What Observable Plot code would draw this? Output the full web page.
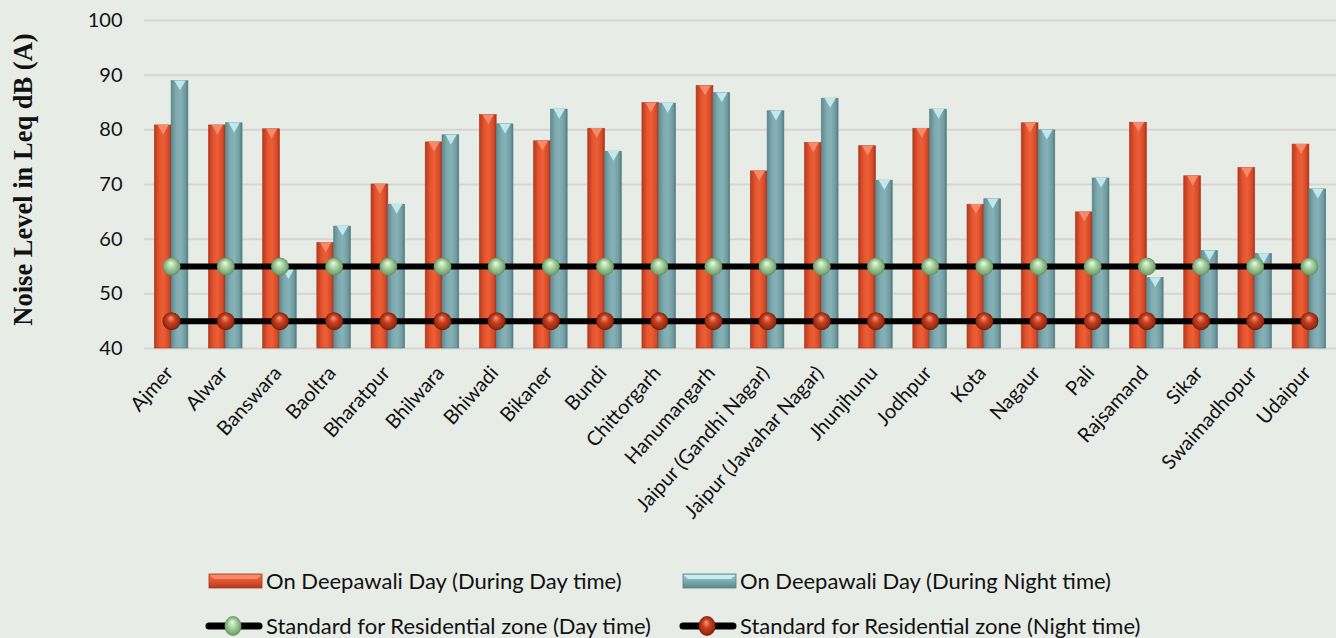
<!DOCTYPE html>
<html>
<head>
<meta charset="utf-8">
<script src="https://cdn.jsdelivr.net/npm/d3@7"></script>
<script src="https://cdn.jsdelivr.net/npm/@observablehq/plot@0.6"></script>
<style>
  html, body { margin: 0; padding: 0; background: #e8ece7; }
  #wrap { position: relative; width: 1336px; height: 638px; background: #e8ece7; overflow: hidden; }
  #chart { position: absolute; left: 0; top: 0; }
  .legend { position: absolute; height: 20px; font-family: Lato, "Open Sans", sans-serif; font-size: 22px; line-height: 20px; color: #111; display: flex; align-items: center; white-space: nowrap; }
  .legend svg { display: block; margin-right: 3px; }
</style>
</head>
<body>
<div id="wrap">
  <div id="chart"></div>
</div>
<script>
const cities = ["Ajmer","Alwar","Banswara","Baoltra","Bharatpur","Bhilwara","Bhiwadi","Bikaner","Bundi","Chittorgarh","Hanumangarh","Jaipur (Gandhi Nagar)","Jaipur (Jawahar Nagar)","Jhunjhunu","Jodhpur","Kota","Nagaur","Pali","Rajsamand","Sikar","Swaimadhopur","Udaipur"];
const dayValues   = [80.8,80.8,80.1,59.3,70.0,77.7,82.7,77.9,80.2,84.9,88.0,72.4,77.6,77.0,80.2,66.3,81.2,64.9,81.3,71.5,73.0,77.3];
const nightValues = [88.9,81.2,54.4,62.3,66.3,79.0,81.0,83.7,76.0,84.8,86.7,83.4,85.7,70.7,83.7,67.3,79.9,71.1,52.9,57.8,57.3,69.1];
const dayStandard = 55;
const nightStandard = 45;
const yTicks = [40,50,60,70,80,90,100];
const seriesNames = ["On Deepawali Day (During Day time)","On Deepawali Day (During Night time)","Standard for Residential zone (Day time)","Standard for Residential zone (Night time)"];
const yLabel = "Noise Level in Leq dB (A)";

const dayData = cities.map((c, i) => ({city: c, value: dayValues[i]}));
const nightData = cities.map((c, i) => ({city: c, value: nightValues[i]}));
const dayStd = cities.map(c => ({city: c, value: dayStandard}));
const nightStd = cities.map(c => ({city: c, value: nightStandard}));

const half = 16.8;

const plot = Plot.plot({
  width: 1336,
  height: 545,
  marginLeft: 144,
  marginRight: 0,
  marginTop: 20,
  marginBottom: 197,
  style: {background: "transparent", fontFamily: "Lato, 'Open Sans', sans-serif"},
  x: {domain: cities, type: "band", paddingInner: 0.38, paddingOuter: 0.19, round: false, label: null},
  y: {domain: [40, 100], ticks: yTicks, label: null},
  marks: [
    Plot.gridY(yTicks, {stroke: "#d8d4d4", strokeOpacity: 1, strokeWidth: 2}),
    Plot.axisY({ticks: yTicks, tickSize: 0, tickPadding: 22, fontSize: 20, fill: "#111", label: null}),
    Plot.axisX({tickSize: 0, tickPadding: 21, dx: -2, tickRotate: -48, fontSize: 20, fill: "#111", label: null}),
    Plot.barY(dayData, {x: "city", y1: 40, y2: "value", fill: "url(#gRed)", stroke: "#a8351c", strokeWidth: 0.6, insetRight: half}),
    Plot.barY(nightData, {x: "city", y1: 40, y2: "value", fill: "url(#gBlue)", stroke: "#557f84", strokeWidth: 0.6, insetLeft: half}),
    Plot.dot(dayData, {x: "city", y: "value", symbol: "triangle", rotate: 180, r: 4.2, dx: -half/2, dy: 2.6, fill: "#f58a6a", stroke: "none"}),
    Plot.dot(nightData, {x: "city", y: "value", symbol: "triangle", rotate: 180, r: 4.2, dx: half/2, dy: 2.6, fill: "#bfe9ee", stroke: "none"}),
    Plot.lineY(dayStd, {x: "city", y: "value", stroke: "#000", strokeWidth: 6}),
    Plot.lineY(nightStd, {x: "city", y: "value", stroke: "#000", strokeWidth: 6}),
    Plot.dot(dayStd, {x: "city", y: "value", r: 9, fill: "url(#gGreenBall)", stroke: "none"}),
    Plot.dot(nightStd, {x: "city", y: "value", r: 9, fill: "url(#gRedBall)", stroke: "none"}),
    Plot.text([yLabel], {frameAnchor: "left", dx: -121, dy: -5, rotate: -90, textAnchor: "middle", lineAnchor: "middle", fontFamily: "'Liberation Serif', 'Times New Roman', serif", fontWeight: "bold", fontSize: 26.5, fill: "#111"})
  ]
});

const defsHTML = `
<linearGradient id="gRed" x1="0" x2="1" y1="0" y2="0">
  <stop offset="0" stop-color="#b8391d"/>
  <stop offset="0.3" stop-color="#e4552f"/>
  <stop offset="0.55" stop-color="#ec5f36"/>
  <stop offset="0.85" stop-color="#d44a28"/>
  <stop offset="1" stop-color="#a3321a"/>
</linearGradient>
<linearGradient id="gBlue" x1="0" x2="1" y1="0" y2="0">
  <stop offset="0" stop-color="#5d8a90"/>
  <stop offset="0.3" stop-color="#7eaab0"/>
  <stop offset="0.55" stop-color="#86b2b7"/>
  <stop offset="0.85" stop-color="#6f9ba1"/>
  <stop offset="1" stop-color="#4f7a80"/>
</linearGradient>
<linearGradient id="gRedV" x1="0" x2="0" y1="0" y2="1">
  <stop offset="0" stop-color="#f07a55"/>
  <stop offset="0.5" stop-color="#e2522c"/>
  <stop offset="1" stop-color="#b23a1e"/>
</linearGradient>
<linearGradient id="gBlueV" x1="0" x2="0" y1="0" y2="1">
  <stop offset="0" stop-color="#a8d4d8"/>
  <stop offset="0.5" stop-color="#7eaab0"/>
  <stop offset="1" stop-color="#5a868c"/>
</linearGradient>
<radialGradient id="gGreenBall" cx="0.5" cy="0.5" r="0.5" fx="0.45" fy="0.3">
  <stop offset="0" stop-color="#eefbe8"/>
  <stop offset="0.45" stop-color="#a9d2a0"/>
  <stop offset="0.85" stop-color="#7aa874"/>
  <stop offset="1" stop-color="#5e8a5a"/>
</radialGradient>
<radialGradient id="gRedBall" cx="0.5" cy="0.5" r="0.5" fx="0.45" fy="0.3">
  <stop offset="0" stop-color="#f49a82"/>
  <stop offset="0.45" stop-color="#c8401f"/>
  <stop offset="0.85" stop-color="#9a2a10"/>
  <stop offset="1" stop-color="#6e1c0a"/>
</radialGradient>`;
const defs = document.createElementNS("http://www.w3.org/2000/svg", "defs");
defs.innerHTML = defsHTML;
plot.insertBefore(defs, plot.firstChild);
document.getElementById("chart").appendChild(plot);

// Legend (HTML, below the SVG)
const wrap = document.getElementById("wrap");
function legendItem(left, top, swatchSvg, text) {
  const d = document.createElement("div");
  d.className = "legend";
  d.style.left = left + "px";
  d.style.top = top + "px";
  d.innerHTML = swatchSvg;
  const s = document.createElement("span");
  s.textContent = text;
  d.appendChild(s);
  wrap.appendChild(d);
}
const barSw = (grad, stroke, tri) => `<svg width="55" height="20"><rect x="1" y="3" width="53" height="14" fill="url(#${grad})" stroke="${stroke}" stroke-width="0.8"/><polygon points="2,4 53,4 49,8 6,8" fill="${tri}"/></svg>`;
const lineSw = (grad) => `<svg width="58" height="22"><line x1="4" x2="54" y1="11" y2="11" stroke="#000" stroke-width="7" stroke-linecap="round"/><ellipse cx="28" cy="11" rx="8.5" ry="10" fill="url(#${grad})"/></svg>`;
legendItem(208, 571, barSw("gRedV", "#a8351c", "#f58a6a"), seriesNames[0]);
legendItem(682, 571, barSw("gBlueV", "#557f84", "#c4eef2"), seriesNames[1]);
legendItem(205, 616, lineSw("gGreenBall"), seriesNames[2]);
legendItem(679, 616, lineSw("gRedBall"), seriesNames[3]);
</script>
</body>
</html>
